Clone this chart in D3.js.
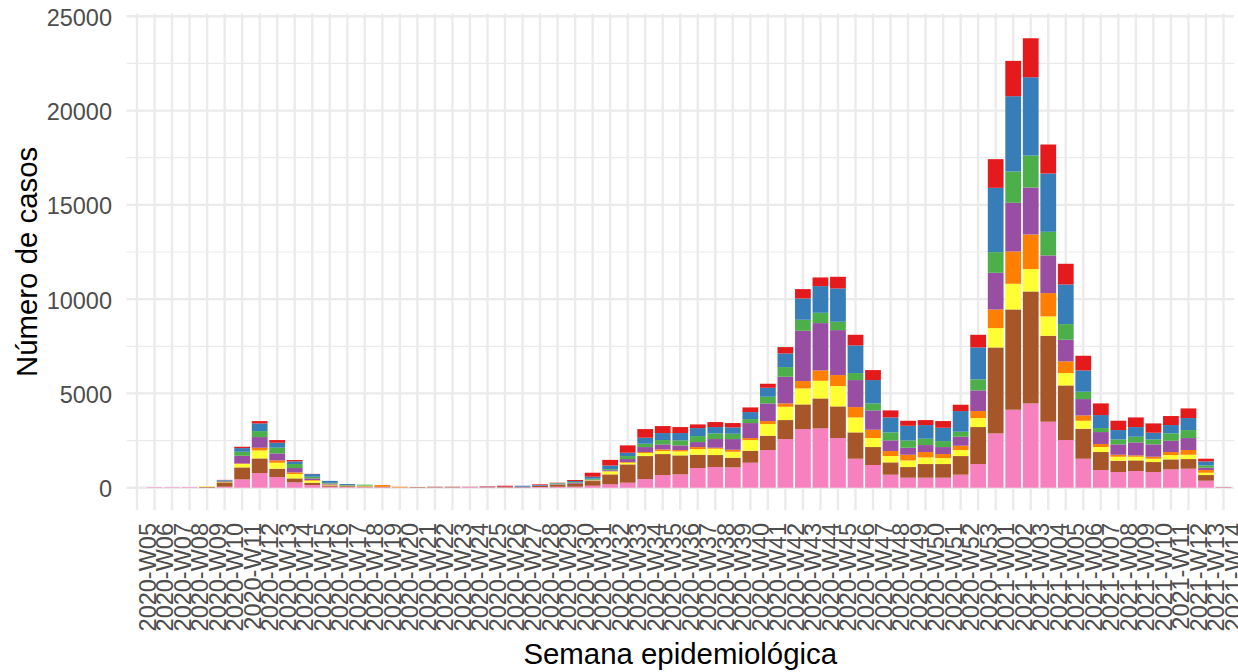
<!DOCTYPE html>
<html lang="es">
<head>
<meta charset="UTF-8">
<title>Número de casos por semana epidemiológica</title>
<script src="https://d3js.org/d3.v7.min.js"></script>
<style>
  body { margin: 0; background: #fff; }
  svg { display: block; font-family: 'Liberation Sans', Arial, Helvetica, sans-serif; }
  .grid line { stroke: #ebebeb; }
  .tick-label { fill: #4d4d4d; font-size: 23.5px; }
  .axis-title { fill: #000; font-size: 29.4px; }
</style>
</head>
<body>
<div id="chart"></div>
<script>
// semanas epidemiológicas (eje x)
const weeks = [
  "2020-W05","2020-W06","2020-W07","2020-W08","2020-W09","2020-W10","2020-W11","2020-W12","2020-W13","2020-W14",
  "2020-W15","2020-W16","2020-W17","2020-W18","2020-W19","2020-W20","2020-W21","2020-W22","2020-W23","2020-W24",
  "2020-W25","2020-W26","2020-W27","2020-W28","2020-W29","2020-W30","2020-W31","2020-W32","2020-W33","2020-W34",
  "2020-W35","2020-W36","2020-W37","2020-W38","2020-W39","2020-W40","2020-W41","2020-W42","2020-W43","2020-W44",
  "2020-W45","2020-W46","2020-W47","2020-W48","2020-W49","2020-W50","2020-W51","2020-W52","2020-W53","2021-W01",
  "2021-W02","2021-W03","2021-W04","2021-W05","2021-W06","2021-W07","2021-W08","2021-W09","2021-W10","2021-W11",
  "2021-W12","2021-W13","2021-W14"
];

// casos por grupo (de abajo hacia arriba en la pila)
const grupo8 = [1,25,25,30,10,53,442,777,565,283, 141,53,35,30,25,15,10,20,20,40,
  15,15,10,35,50,53,106,177,265,459, 671,707,1042,1096,1078,1325,1997,2580,3110,3145,
  2633,1537,1202,689,530,530,530,689,1255,2880, 4135,4470,3499,2527,1537,937,830,884,830,972,
  1007,371,30];
const grupo7 = [0,0,0,0,35,230,636,777,442,212, 124,70,45,40,25,0,25,30,30,10,
  10,20,15,55,110,159,247,530,972,1219, 1113,1007,707,636,512,636,760,1007,1308,1590,
  1679,1396,954,654,565,724,724,989,1961,4559, 5319,5937,4559,2898,1590,954,601,565,530,530,
  512,300,10];
const grupo6 = [0,0,0,0,25,18,180,424,318,230, 106,35,15,40,0,0,0,0,0,0,
  0,0,0,0,10,0,35,159,88,159, 159,212,300,336,318,565,618,707,848,937,
  1078,795,477,336,353,353,318,318,477,1025, 1361,1184,1025,654,424,265,212,194,177,230,
  230,124,0];
const grupo5 = [0,0,0,0,0,8,30,141,124,88, 35,10,0,0,90,35,0,0,0,0,
  0,0,0,0,0,0,0,10,35,53, 88,71,106,53,106,106,159,177,389,548,
  583,548,442,265,300,283,212,230,371,989, 1714,1838,1237,618,283,159,106,71,106,159,
  247,141,0];
const grupo4 = [0,0,0,0,0,35,406,565,371,230, 88,53,20,0,0,0,0,0,0,0,
  25,20,30,20,20,53,35,53,159,265, 265,247,265,459,565,795,936,1414,2668,2509,
  2385,1431,1025,565,371,371,371,477,1096,1944, 2580,2491,1997,1149,866,636,548,689,654,601,
  636,124,0];
const grupo3 = [0,0,0,0,0,26,212,318,300,212, 88,35,30,50,0,0,0,0,0,0,
  0,0,0,0,40,35,53,53,159,177, 230,265,318,300,283,212,353,512,583,548,
  442,371,371,424,389,336,318,265,583,1096, 1661,1696,1255,830,389,212,265,300,265,389,
  424,124,0];
const grupo2 = [0,0,0,0,0,35,194,406,265,141, 141,106,50,0,0,0,0,0,0,0,
  0,0,50,35,20,53,106,194,177,318, 371,389,424,336,336,371,477,724,1131,1414,
  1767,1467,1237,795,777,724,707,1096,1696,3410, 3993,4152,3092,2103,1131,689,495,512,353,442,
  636,212,0];
const grupo1 = [0,0,0,0,0,9,71,124,141,71, 10,0,0,0,0,0,0,0,0,0,
  20,50,0,35,15,53,212,300,389,459, 371,318,194,265,230,247,212,336,495,459,
  618,565,530,371,265,265,353,336,671,1520, 1873,2067,1537,1096,777,618,495,512,495,477,
  512,141,0];

const groups = ["Grupo 1","Grupo 2","Grupo 3","Grupo 4","Grupo 5","Grupo 6","Grupo 7","Grupo 8"];
const groupColors = ["#E41A1C","#377EB8","#4DAF4A","#984EA3","#FF7F00","#FFFF33","#A65628","#F781BF"];
const yTicks = [0, 5000, 10000, 15000, 20000, 25000];
const yMinor = [2500, 7500, 12500, 17500, 22500];

const series = {
  "Grupo 1": grupo1, "Grupo 2": grupo2, "Grupo 3": grupo3, "Grupo 4": grupo4,
  "Grupo 5": grupo5, "Grupo 6": grupo6, "Grupo 7": grupo7, "Grupo 8": grupo8
};

const width = 1238, height = 672;
const panel = { left: 126.5, right: 1234, top: 13.5, bottom: 510.3 };

const table = weeks.map((w, i) => {
  const row = { week: w };
  groups.forEach(g => row[g] = series[g][i]);
  return row;
});

// ggplot apila el primer nivel arriba
const stacked = d3.stack().keys(groups.slice().reverse())(table);

const color = d3.scaleOrdinal().domain(groups).range(groupColors);
const x = d3.scalePoint().domain(weeks).range([panel.left, panel.right]).padding(0.6);
const barW = x.step() * 0.9;
const y = d3.scaleLinear().domain([0, 25000]).range([487.7, 16.3]);

const svg = d3.select("#chart").append("svg")
  .attr("width", width)
  .attr("height", height);

const grid = svg.append("g").attr("class", "grid");
grid.selectAll(".minor").data(yMinor).enter().append("line")
  .attr("x1", panel.left).attr("x2", panel.right)
  .attr("y1", d => y(d)).attr("y2", d => y(d))
  .attr("stroke-width", 1.2);
grid.selectAll(".major").data(yTicks).enter().append("line")
  .attr("x1", panel.left).attr("x2", panel.right)
  .attr("y1", d => y(d)).attr("y2", d => y(d))
  .attr("stroke-width", 2.4);
grid.selectAll(".vert").data(weeks).enter().append("line")
  .attr("x1", d => x(d)).attr("x2", d => x(d))
  .attr("y1", panel.top).attr("y2", panel.bottom)
  .attr("stroke-width", 2.4);

svg.append("g").selectAll("g")
  .data(stacked).enter().append("g")
  .attr("fill", d => color(d.key))
  .selectAll("rect")
  .data(d => d).enter().append("rect")
  .attr("x", d => x(d.data.week) - barW / 2)
  .attr("width", barW)
  .attr("y", d => y(d[1]))
  .attr("height", d => Math.max(0, y(d[0]) - y(d[1])));

// etiquetas eje y
svg.append("g").selectAll("text")
  .data(yTicks).enter().append("text")
  .attr("class", "tick-label")
  .attr("x", 112)
  .attr("y", d => y(d) + 9.5)
  .attr("text-anchor", "end")
  .text(d => d);

// etiquetas eje x (giradas, como en el original la última queda cortada en el borde)
svg.append("g").selectAll("text")
  .data(weeks).enter().append("text")
  .attr("class", "tick-label")
  .attr("text-anchor", "end")
  .attr("transform", d => `translate(${x(d) + 18.5},523) rotate(-90)`)
  .text(d => d);

svg.append("text")
  .attr("class", "axis-title")
  .attr("text-anchor", "middle")
  .attr("x", (panel.left + panel.right) / 2)
  .attr("y", 664)
  .text("Semana epidemiológica");

svg.append("text")
  .attr("class", "axis-title")
  .attr("text-anchor", "middle")
  .attr("transform", `translate(37,${(panel.top + panel.bottom) / 2}) rotate(-90)`)
  .text("Número de casos");
</script>
</body>
</html>
